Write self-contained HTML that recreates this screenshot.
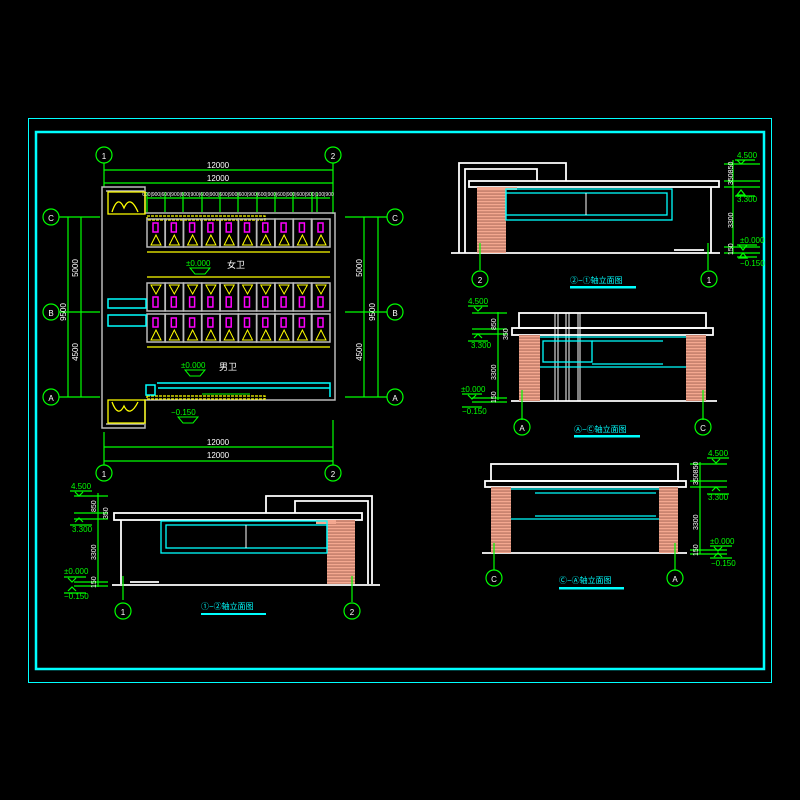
<!DOCTYPE html>
<html><head><meta charset="utf-8"><style>html,body{margin:0;background:#000}svg{display:block}</style></head>
<body>
<svg width="800" height="800" viewBox="0 0 800 800" xmlns="http://www.w3.org/2000/svg" font-family="Liberation Sans, Noto Sans CJK SC, sans-serif">
<defs>
<pattern id="h" width="4" height="3" patternUnits="userSpaceOnUse"><rect width="4" height="3" fill="#f4a890"/><rect y="1.6" width="4" height="0.9" fill="#a06050"/></pattern>
<g id="st"><rect x="0" y="0" width="18" height="28" fill="none" stroke="#bbb" stroke-width="1.5"/><rect x="6" y="4" width="5" height="9" fill="none" stroke="#f0f" stroke-width="1.5"/><path d="M4 26 L9 16 L14 26 Z M4 26 h10" fill="none" stroke="#ff0" stroke-width="1"/></g>
<g id="sb"><rect x="0" y="0" width="18" height="28" fill="none" stroke="#bbb" stroke-width="1.5"/><rect x="6" y="14" width="5" height="10" fill="none" stroke="#f0f" stroke-width="1.5"/><path d="M4 2 L9 11 L14 2 Z" fill="none" stroke="#ff0" stroke-width="1"/></g>
<g id="ax" fill="none" stroke="#0f0" stroke-width="1.2"><circle r="8"/></g>
</defs>
<rect width="800" height="800" fill="#000"/>
<rect x="28.5" y="118.5" width="743" height="564" fill="none" stroke="#0ff" stroke-width="1"/>
<rect x="36" y="132" width="728" height="537" fill="none" stroke="#0ff" stroke-width="2.5"/>

<!-- PLAN -->
<g stroke="#0f0" stroke-width="1.2" fill="none">
<path d="M104 163V187 M333 163V214 M104 170H333 M104 183H333 M104 432V465 M333 420V465 M104 447H333 M104 461H333"/>
<path d="M59 217H100 M59 312H100 M59 397H100 M345 217H387 M345 312H387 M345 397H387"/>
<path d="M68 217V397 M81 217V397 M364 217V397 M378 217V397"/>
<path d="M147 198H330"/>
<path d="M147 192V212 M165 192V212 M183 192V212 M202 192V212 M220 192V212 M238 192V212 M257 192V212 M275 192V212 M293 192V212 M312 192V212 M317 192V212"/>
</g>
<g fill="#fff" font-size="8" text-anchor="middle">
<text x="218" y="168">12000</text><text x="218" y="181">12000</text>
<text x="218" y="445">12000</text><text x="218" y="458">12000</text>
<text x="238" y="196" font-size="5">600|900|600|900|600|900|600|900|600|900|600|900|600|900|600|900|600|900|100|900</text>
<text transform="translate(78,268) rotate(-90)">5000</text>
<text transform="translate(78,352) rotate(-90)">4500</text>
<text transform="translate(66,312) rotate(-90)">9500</text>
<text transform="translate(362,268) rotate(-90)">5000</text>
<text transform="translate(362,352) rotate(-90)">4500</text>
<text transform="translate(375,312) rotate(-90)">9500</text>
<text x="236" y="268" font-size="9">女卫</text>
<text x="228" y="370" font-size="9">男卫</text>
</g>
<g fill="#0f0" font-size="8">
<text x="186" y="266">±0.000</text><text x="181" y="368">±0.000</text><text x="171" y="415">−0.150</text>
</g>
<path d="M190 268h20l-5 6h-10z M185 370h20l-5 6h-10z M178 417h20l-5 6h-10z" fill="none" stroke="#0f0"/>
<g stroke="#bbb" stroke-width="1.5" fill="none">
<path d="M102 187H145V213H335V400H145V428H102Z"/>
<path d="M106 191H144 M106 424H144"/>
</g>
<g stroke="#ff0" stroke-width="1.3" fill="none">
<path d="M108 192H145V214H108Z M108 400H145V423H108Z"/>
<path d="M112 212 Q118 194 124 208 Q130 194 138 212 M112 402 Q118 418 124 406 Q130 418 138 402"/>
<path d="M147 252H330 M147 277H330 M147 347H330"/>
<rect x="147" y="216" width="118" height="4" stroke-dasharray="3 1"/>
<rect x="147" y="396" width="118" height="3" stroke-dasharray="3 1"/>
</g>
<g>
<use href="#st" x="147" y="219"/><use href="#st" x="165.3" y="219"/><use href="#st" x="183.6" y="219"/><use href="#st" x="201.9" y="219"/><use href="#st" x="220.2" y="219"/><use href="#st" x="238.5" y="219"/><use href="#st" x="256.8" y="219"/><use href="#st" x="275.1" y="219"/><use href="#st" x="293.4" y="219"/><use href="#st" x="312" y="219"/>
<use href="#sb" x="147" y="283"/><use href="#sb" x="165.3" y="283"/><use href="#sb" x="183.6" y="283"/><use href="#sb" x="201.9" y="283"/><use href="#sb" x="220.2" y="283"/><use href="#sb" x="238.5" y="283"/><use href="#sb" x="256.8" y="283"/><use href="#sb" x="275.1" y="283"/><use href="#sb" x="293.4" y="283"/><use href="#sb" x="312" y="283"/>
<use href="#st" x="147" y="314"/><use href="#st" x="165.3" y="314"/><use href="#st" x="183.6" y="314"/><use href="#st" x="201.9" y="314"/><use href="#st" x="220.2" y="314"/><use href="#st" x="238.5" y="314"/><use href="#st" x="256.8" y="314"/><use href="#st" x="275.1" y="314"/><use href="#st" x="293.4" y="314"/><use href="#st" x="312" y="314"/>
</g>
<g stroke="#0ff" stroke-width="1.5" fill="none">
<rect x="108" y="299" width="38" height="9"/><rect x="108" y="315" width="38" height="11"/>
<rect x="146" y="385" width="9" height="10"/>
<path d="M157 383H330V397 M158 388H330"/>
</g>
<g stroke="#0f0" stroke-width="1" fill="none"><path d="M202 394H250"/></g>
<g fill="#fff" font-size="8" text-anchor="middle">
<use href="#ax" x="104" y="155"/><text x="104" y="159">1</text>
<use href="#ax" x="333" y="155"/><text x="333" y="159">2</text>
<use href="#ax" x="104" y="473"/><text x="104" y="477">1</text>
<use href="#ax" x="333" y="473"/><text x="333" y="477">2</text>
<use href="#ax" x="51" y="217"/><text x="51" y="221">C</text>
<use href="#ax" x="51" y="312"/><text x="51" y="316">B</text>
<use href="#ax" x="51" y="397"/><text x="51" y="401">A</text>
<use href="#ax" x="395" y="217"/><text x="395" y="221">C</text>
<use href="#ax" x="395" y="312"/><text x="395" y="316">B</text>
<use href="#ax" x="395" y="397"/><text x="395" y="401">A</text>
</g>

<!-- 2-1 elevation -->
<g stroke="#fff" stroke-width="1.8" fill="none">
<path d="M451 253H720"/>
<rect x="469" y="181" width="250" height="6"/>
<path d="M459 253V163H566V181 M465 253V169H537V181"/>
<path d="M711 187V253 M674 250H704"/>
</g>
<rect x="477" y="187" width="29" height="66" fill="url(#h)"/>
<rect x="477" y="187" width="40" height="3" fill="#f4a890"/>
<g stroke="#0ff" stroke-width="1.3" fill="none"><rect x="506" y="189" width="166" height="31"/><rect x="506" y="193" width="161" height="22"/></g>
<path d="M586 193V215" stroke="#fff"/>
<g stroke="#0f0" stroke-width="1.2" fill="none">
<path d="M733 160V254 M480 243V270 M708 243V270"/>
<path d="M724 164H760 M724 181H760 M724 187H760 M724 247H760 M724 253H760"/>
<path d="M735 160h20 M741 164l-4 -4h8z M735 196h20 M741 190l-4 5h8z M737 245h20 M743 250l-4 -5h8z M737 257h20 M743 253l-4 5h8z"/>
</g>
<g fill="#0f0" font-size="8"><text x="737" y="158">4.500</text><text x="737" y="202">3.300</text><text x="740" y="243">±0.000</text><text x="740" y="266">−0.150</text></g>
<g fill="#fff" font-size="7"><text transform="translate(733,185) rotate(-90)">350850</text><text transform="translate(733,228) rotate(-90)">3300</text><text transform="translate(733,255) rotate(-90)">150</text></g>

<!-- A-C elevation -->
<g stroke="#fff" stroke-width="1.8" fill="none">
<path d="M511 401H717"/>
<rect x="519" y="313" width="187" height="15"/>
<rect x="512" y="328" width="201" height="7"/>
<path d="M555 313V401 M558 313V401 M566 313V401 M569 313V401 M578 313V401 M580 313V401" stroke-width="1"/>
</g>
<rect x="519" y="335" width="21" height="66" fill="url(#h)"/><rect x="686" y="335" width="20" height="66" fill="url(#h)"/>
<g stroke="#0ff" stroke-width="1.3" fill="none"><rect x="543" y="341" width="49" height="21"/><path d="M540 337H686 M540 367H686 M592 364H663 M592 341H663"/></g>
<g stroke="#0f0" stroke-width="1.2" fill="none">
<path d="M498 312V400 M522 390V420 M703 390V420 M472 313H507 M472 329H507 M472 334H507 M472 398H507 M472 402H507"/>
<path d="M468 306h20 M474 307l4 4l4-4 M468 341h20 M474 338l4 -4l4 4 M462 394h20 M468 395l4 4l4-4 M462 407h20"/>
</g>
<g fill="#0f0" font-size="8"><text x="468" y="304">4.500</text><text x="471" y="348">3.300</text><text x="461" y="392">±0.000</text><text x="462" y="414">−0.150</text></g>
<g fill="#fff" font-size="7"><text transform="translate(496,330) rotate(-90)">850</text><text transform="translate(496,380) rotate(-90)">3300</text><text transform="translate(496,403) rotate(-90)">150</text><text transform="translate(508,340) rotate(-90)">350</text></g>

<!-- C-A elevation -->
<g stroke="#fff" stroke-width="1.8" fill="none">
<path d="M482 553H687"/>
<rect x="491" y="464" width="187" height="17"/>
<rect x="485" y="481" width="201" height="6"/>
</g>
<rect x="491" y="487" width="20" height="66" fill="url(#h)"/><rect x="659" y="487" width="19" height="66" fill="url(#h)"/>
<g stroke="#0ff" stroke-width="1.2" fill="none"><path d="M511 489H659 M511 519H659 M535 493H656 M535 516H656"/></g>
<g stroke="#0f0" stroke-width="1.2" fill="none">
<path d="M700 462V554 M494 543V570 M675 543V570 M690 464H727 M690 481H727 M690 487H727 M690 550H727 M690 554H727"/>
<path d="M707 458h22 M712 459l4 4l4-4 M707 494h22 M712 491l4 -4l4 4 M710 546h22 M714 547l4 4l4-4 M710 558h22 M714 557l4 -4l4 4"/>
</g>
<g fill="#0f0" font-size="8"><text x="708" y="456">4.500</text><text x="708" y="500">3.300</text><text x="710" y="544">±0.000</text><text x="711" y="566">−0.150</text></g>
<g fill="#fff" font-size="7"><text transform="translate(698,485) rotate(-90)">350850</text><text transform="translate(698,530) rotate(-90)">3300</text><text transform="translate(698,556) rotate(-90)">150</text></g>

<!-- 1-2 elevation -->
<g stroke="#fff" stroke-width="1.8" fill="none">
<path d="M112 585H380"/>
<rect x="114" y="513" width="248" height="7"/>
<path d="M121 520V584 M266 513V496H372V584 M295 513V501H368V584 M130 582H159"/>
</g>
<rect x="327" y="520" width="28" height="64" fill="url(#h)"/>
<rect x="316" y="520" width="20" height="4" fill="#f4a890"/>
<g stroke="#0ff" stroke-width="1.3" fill="none"><rect x="161" y="521" width="166" height="32"/><rect x="166" y="525" width="161" height="23"/></g>
<path d="M246 525V548" stroke="#fff"/>
<g stroke="#0f0" stroke-width="1.2" fill="none">
<path d="M98 493V587 M123 576V600 M352 576V602 M74 496H108 M74 513H108 M74 519H108 M74 582H108 M74 586H108"/>
<path d="M70 491h22 M75 492l4 4l4-4 M70 525h22 M75 522l4 -4l4 4 M64 577h22 M68 578l4 4l4-4 M64 593h22 M68 591l4 -4l4 4"/>
</g>
<g fill="#0f0" font-size="8"><text x="71" y="489">4.500</text><text x="72" y="532">3.300</text><text x="64" y="574">±0.000</text><text x="64" y="599">−0.150</text></g>
<g fill="#fff" font-size="7"><text transform="translate(96,512) rotate(-90)">850</text><text transform="translate(96,560) rotate(-90)">3300</text><text transform="translate(96,588) rotate(-90)">150</text><text transform="translate(108,519) rotate(-90)">350</text></g>

<!-- elevation axes and titles -->
<g fill="#fff" font-size="8" text-anchor="middle">
<use href="#ax" x="480" y="279"/><text x="480" y="283">2</text>
<use href="#ax" x="709" y="279"/><text x="709" y="283">1</text>
<use href="#ax" x="522" y="427"/><text x="522" y="431">A</text>
<use href="#ax" x="703" y="427"/><text x="703" y="431">C</text>
<use href="#ax" x="494" y="578"/><text x="494" y="582">C</text>
<use href="#ax" x="675" y="578"/><text x="675" y="582">A</text>
<use href="#ax" x="123" y="611"/><text x="123" y="615">1</text>
<use href="#ax" x="352" y="611"/><text x="352" y="615">2</text>
</g>
<g fill="#0ff" font-size="8">
<text x="570" y="283">②−①轴立面图</text><rect x="570" y="286" width="66" height="2.5"/>
<text x="574" y="432">Ⓐ−Ⓒ轴立面图</text><rect x="574" y="435" width="66" height="2.5"/>
<text x="559" y="583">Ⓒ−Ⓐ轴立面图</text><rect x="559" y="587" width="65" height="2.5"/>
<text x="201" y="609">①−②轴立面图</text><rect x="201" y="613" width="65" height="2"/>
</g>
</svg>
</body></html>
